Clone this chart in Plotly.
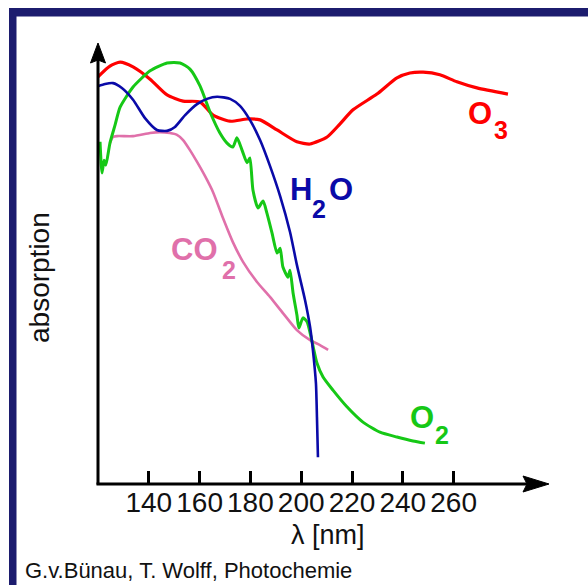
import plotly.graph_objects as go

# ---------------- data (wavelength in nm, absorption in arbitrary units 0-100) ----------------
o3_wl = [120.0, 120.8, 124.7, 128.7, 133.8, 140.5, 147.2, 153.5, 160.2, 165.3, 172.0, 178.7,
         183.8, 190.5, 198.3, 203.5, 210.2, 215.3, 220.4, 229.8, 237.7, 242.8, 248.0, 254.6,
         261.3, 269.2, 281.4]
o3_abs = [92.7, 93.2, 95.2, 96.1, 95.0, 92.2, 88.6, 87.2, 87.0, 84.0, 82.6, 83.1,
          82.9, 80.6, 77.9, 77.4, 79.0, 82.0, 85.2, 88.8, 92.5, 93.6, 93.8, 93.2,
          91.6, 90.2, 88.8]

h2o_wl = [120.0, 122.8, 125.9, 129.4, 133.8, 138.5, 143.2, 147.2, 150.3, 154.3, 159.0, 162.9,
          166.9, 172.0, 175.9, 179.8, 183.8, 187.7, 191.7, 195.6, 198.3, 201.5, 203.5, 204.6,
          205.8, 206.2, 206.6]
h2o_abs = [90.6, 91.1, 91.3, 90.2, 87.5, 83.3, 80.6, 80.4, 81.3, 84.0, 86.5, 87.7,
           88.2, 87.7, 86.1, 82.9, 78.3, 72.4, 65.5, 57.3, 49.8, 41.8, 35.6, 30.4,
           22.8, 15.1, 5.9]

o2_wl = [120.8, 121.6, 122.4, 123.1, 124.7, 126.7, 128.7, 133.8, 140.5, 147.2, 152.3, 156.2,
         160.2, 164.1, 168.0, 170.8, 173.1, 174.7, 176.7, 178.7, 179.8, 181.0, 183.0, 185.0,
         186.5, 188.5, 190.5, 191.7, 192.8, 194.8, 195.6, 196.8, 198.3, 199.1, 200.7, 202.3,
         204.3, 206.2, 208.6, 212.5, 218.0, 224.3, 231.0, 237.7, 244.0, 248.7]
o2_abs = [77.9, 70.8, 73.7, 72.6, 77.6, 81.7, 85.8, 90.4, 94.1, 95.9, 95.9, 94.5,
          90.6, 84.7, 79.9, 77.6, 76.7, 78.8, 76.0, 73.1, 74.2, 66.9, 62.8, 64.4,
          61.6, 57.1, 52.5, 53.6, 49.3, 47.0, 48.6, 43.4, 38.4, 35.4, 37.7, 36.8,
          32.2, 27.4, 24.2, 21.2, 17.4, 13.9, 11.6, 10.5, 9.6, 9.1]

co2_wl = [124.7, 125.9, 127.5, 133.8, 140.5, 144.4, 148.3, 151.1, 153.5, 156.2, 159.0, 162.1,
          165.3, 169.2, 173.1, 177.1, 182.6, 187.7, 192.8, 198.3, 203.5, 207.4, 210.6]
co2_abs = [77.6, 79.0, 79.2, 79.2, 79.9, 80.1, 79.9, 79.5, 78.3, 76.0, 73.3, 70.1,
           66.4, 60.5, 55.0, 50.5, 45.9, 42.5, 38.8, 34.9, 32.6, 31.5, 30.4]

tick_vals = [140, 160, 180, 200, 220, 240, 260]
tick_text = ["140", "160", "180", "200", "220", "240", "260"]

# ---------------- layout geometry (pixels) ----------------
W, H = 588, 585
L, R, T, B = 98, 547, 45, 483          # plot area in pixels
XMIN, XMAX = 120.0, 120.0 + (R - L) / 2.54
FONT = "Liberation Sans, Arial, sans-serif"


def px(xp):
    return (xp - L) / (R - L)


def py(yp):
    return (B - yp) / (B - T)


RED = "#ff0000"
BLUE = "#0a0aa8"
GREEN = "#16c816"
PINK = "#e070aa"
NAVY = "#1c1c6e"

fig = go.Figure()
for wl, ab, col, w in [(o3_wl, o3_abs, RED, 3.2), (co2_wl, co2_abs, PINK, 2.6),
                       (o2_wl, o2_abs, GREEN, 3.0), (h2o_wl, h2o_abs, BLUE, 2.6)]:
    fig.add_trace(go.Scatter(x=wl, y=ab, mode="lines", line=dict(color=col, width=w, shape="spline", smoothing=0.6),
                             hoverinfo="skip", showlegend=False))

shapes = [
    # frame border (left and top)
    dict(type="rect", xref="paper", yref="paper", x0=px(9), x1=px(16.5), y0=py(600), y1=py(8),
         fillcolor=NAVY, line=dict(width=0), layer="above"),
    dict(type="rect", xref="paper", yref="paper", x0=px(9), x1=px(600), y0=py(16.5), y1=py(8),
         fillcolor=NAVY, line=dict(width=0), layer="above"),
    # axes
    dict(type="line", xref="paper", yref="paper", x0=px(98), x1=px(98), y0=py(484.5), y1=py(58),
         line=dict(color="black", width=3), layer="above"),
    dict(type="line", xref="paper", yref="paper", x0=px(96.5), x1=px(532), y0=py(484), y1=py(484),
         line=dict(color="black", width=3), layer="above"),
    # arrow heads
    dict(type="path", xref="paper", yref="paper",
         path=f"M {px(98)} {py(43)} L {px(90.5)} {py(63)} L {px(98)} {py(60)} L {px(105.5)} {py(63)} Z",
         fillcolor="black", line=dict(color="black", width=1), layer="above"),
    dict(type="path", xref="paper", yref="paper",
         path=f"M {px(549)} {py(484)} L {px(523)} {py(476)} L {px(527)} {py(484)} L {px(523)} {py(492)} Z",
         fillcolor="black", line=dict(color="black", width=1), layer="above"),
]

ann = []


def text(s, xc, yc, size, color, bold=False, angle=0, anchor="center"):
    t = f"<b>{s}</b>" if bold else s
    ann.append(dict(text=t, xref="paper", yref="paper", x=px(xc), y=py(yc), xanchor=anchor,
                    yanchor="middle", showarrow=False, textangle=angle,
                    font=dict(family=FONT, size=size, color=color)))


# species labels
text("O", 480, 114, 31, RED, True)
text("3", 500.5, 130, 25, RED, True)
text("H", 301, 189, 31, BLUE, True)
text("2", 318.5, 209, 25, BLUE, True)
text("O", 341, 189, 31, BLUE, True)
text("CO", 194, 250, 31, PINK, True)
text("2", 228.5, 270, 25, PINK, True)
text("O", 422, 417.5, 31, GREEN, True)
text("2", 442, 434.5, 25, GREEN, True)

# axis titles and credit
text("absorption", 39, 278, 28, "#111111", angle=-90)
text("λ [nm]", 328, 535, 27, "#111111")
text("G.v.Bünau, T. Wolff, Photochemie", 23, 570, 22, "#111111", anchor="left")

fig.update_layout(
    width=W, height=H, autosize=False,
    margin=dict(l=L, r=W - R, t=T, b=H - B, pad=0),
    paper_bgcolor="white", plot_bgcolor="white",
    xaxis=dict(range=[XMIN, XMAX], tickvals=tick_vals, ticktext=tick_text, ticks="inside",
               ticklen=12, tickwidth=3, tickcolor="black", showgrid=False, zeroline=False,
               showline=False, tickfont=dict(family=FONT, size=28, color="#111111"), fixedrange=True),
    yaxis=dict(range=[0, 100], showticklabels=False, ticks="", showgrid=False, zeroline=False,
               showline=False, fixedrange=True),
    shapes=shapes, annotations=ann,
)

fig.write_html("out.html", config={"displayModeBar": False},
               post_script="document.body.style.margin='0';")
